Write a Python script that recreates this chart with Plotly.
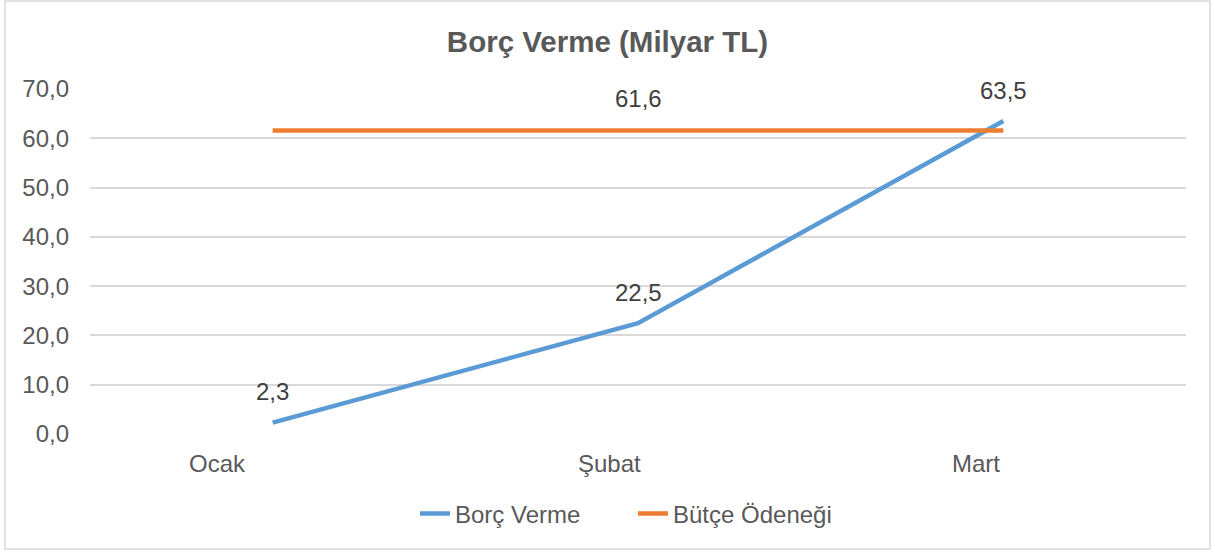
import plotly.graph_objects as go

months = ["Ocak", "Şubat", "Mart"]
borc_verme = [2.3, 22.5, 63.5]
butce_odenegi = [61.6, 61.6, 61.6]
y_ticks = [0, 10, 20, 30, 40, 50, 60, 70]
y_tick_labels = ["0,0", "10,0", "20,0", "30,0", "40,0", "50,0", "60,0", "70,0"]

def fmt(v):
    return f"{v:.1f}".replace(".", ",")

W, H = 1215, 554
L, R, T, B = 90, 29, 89, 120
pw, ph = W - L - R, H - T - B
FONT = "Liberation Sans, Arial"
FS = 24
label_xshift = [-55, -29, -27]

fig = go.Figure()
fig.add_trace(go.Scatter(x=months, y=borc_verme, mode="lines", name="Borç Verme",
                         line=dict(color="#5B9BD5", width=4.5)))
fig.add_trace(go.Scatter(x=months, y=butce_odenegi, mode="lines", name="Bütçe Ödeneği",
                         line=dict(color="#ED7D31", width=4.5)))

font_c = "#404040"
for m, v in zip(months, borc_verme):
    fig.add_annotation(x=m, y=v, text=fmt(v), showarrow=False, yshift=31,
                       font=dict(size=FS, color=font_c, family=FONT))
fig.add_annotation(x=months[1], y=butce_odenegi[1], text=fmt(butce_odenegi[1]), showarrow=False,
                   yshift=32, font=dict(size=FS, color=font_c, family=FONT))

# category labels (Excel-style placement)
for m, dx in zip(months, label_xshift):
    fig.add_annotation(x=m, y=0, yref="paper", text=m, showarrow=False,
                       xshift=dx, yshift=-29, yanchor="middle",
                       font=dict(size=FS, color="#595959", family=FONT))

# outer border
fig.add_shape(type="rect", xref="paper", yref="paper",
              x0=(5 - L) / pw, x1=(1210 - L) / pw,
              y0=(T + ph - 549) / ph, y1=(T + ph - 1) / ph,
              line=dict(color="#D9D9D9", width=1.5), fillcolor="rgba(0,0,0,0)", layer="below")

fig.update_layout(
    width=W, height=H,
    margin=dict(l=L, r=R, t=T, b=B),
    paper_bgcolor="white", plot_bgcolor="white",
    font=dict(family=FONT, color="#595959", size=FS),
    title=dict(text="<b>Borç Verme (Milyar TL)</b>", x=0.5, xref="container",
               y=1 - 42 / H, yanchor="middle",
               font=dict(size=29.5, color="#595959")),
    xaxis=dict(range=[-0.5, 2.5], showgrid=False, showline=False, zeroline=False,
               ticks="", showticklabels=False),
    yaxis=dict(range=[0, 70], tickvals=y_ticks, ticktext=y_tick_labels,
               showgrid=True, gridcolor="#D9D9D9", gridwidth=1.5, zeroline=False,
               showline=False, ticks="", ticklabelstandoff=20,
               tickfont=dict(size=FS, color="#595959")),
    legend=dict(orientation="h", x=415 / W, xanchor="left", xref="container",
                y=(H - 514) / H, yref="container", yanchor="middle",
                entrywidth=173, entrywidthmode="pixels",
                font=dict(size=FS, color="#595959")),
    showlegend=True,
)
fig.write_html("out.html", config={"displayModeBar": False},
               post_script="document.body.style.margin='0';document.body.style.overflow='hidden';")
